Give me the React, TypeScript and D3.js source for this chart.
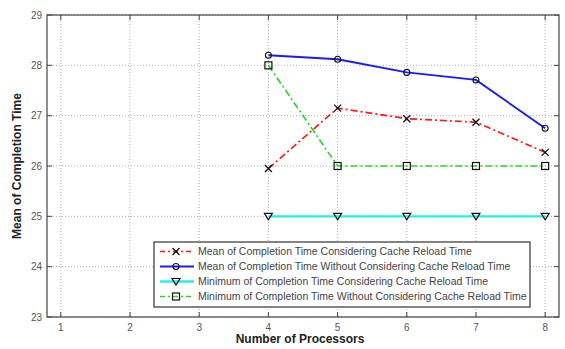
import React, { useEffect, useRef } from 'react';
import * as d3 from 'd3';

const processors = [4, 5, 6, 7, 8];
const meanWithCache = [25.95, 27.15, 26.94, 26.87, 26.27];
const meanWithoutCache = [28.2, 28.12, 27.86, 27.71, 26.75];
const minWithCache = [25, 25, 25, 25, 25];
const minWithoutCache = [28, 26, 26, 26, 26];
const xTicks = [1, 2, 3, 4, 5, 6, 7, 8];
const yTicks = [23, 24, 25, 26, 27, 28, 29];

const seriesNames = [
  'Mean of Completion Time Considering Cache Reload Time',
  'Mean of Completion Time Without Considering Cache Reload Time',
  'Minimum of Completion Time Considering Cache Reload Time',
  'Minimum of Completion Time Without Considering Cache Reload Time',
];

const series = [
  { values: meanWithCache, color: '#ff1a1a', dash: '7,3,2,3', width: 1.7, marker: 'x' },
  { values: meanWithoutCache, color: '#1a1aff', dash: '', width: 1.9, marker: 'o' },
  { values: minWithCache, color: '#22f0f0', dash: '', width: 2.4, marker: 'v' },
  { values: minWithoutCache, color: '#22dd22', dash: '7,3,2,3', width: 1.7, marker: 's' },
];

function drawMarker(g: any, type: string, cx: number, cy: number) {
  const s = 3.5;
  if (type === 'x') {
    g.append('path')
      .attr('d', `M${cx - s},${cy - s}L${cx + s},${cy + s}M${cx - s},${cy + s}L${cx + s},${cy - s}`)
      .attr('stroke', '#111').attr('stroke-width', 1.3).attr('fill', 'none');
  } else if (type === 'o') {
    g.append('circle').attr('cx', cx).attr('cy', cy).attr('r', 3)
      .attr('stroke', '#111').attr('stroke-width', 1.1).attr('fill', 'none');
  } else if (type === 'v') {
    g.append('path')
      .attr('d', `M${cx - 4},${cy - 3}L${cx + 4},${cy - 3}L${cx},${cy + 3.5}Z`)
      .attr('stroke', '#111').attr('stroke-width', 1.2).attr('fill', 'none');
  } else {
    g.append('rect').attr('x', cx - 3.5).attr('y', cy - 3.5).attr('width', 7).attr('height', 7)
      .attr('stroke', '#111').attr('stroke-width', 1.2).attr('fill', 'none');
  }
}

export default function App() {
  const ref = useRef<SVGSVGElement>(null);

  useEffect(() => {
    const svg = d3.select(ref.current);
    svg.selectAll('*').remove();

    const left = 47, right = 559, top = 15, bottom = 317;

    const x = d3.scaleLinear().domain([0.8, 8.2]).range([left, right]);
    const y = d3.scaleLinear().domain([23, 29]).range([bottom, top]);

    svg.append('rect').attr('width', 565).attr('height', 349).attr('fill', '#fff');

    // grid
    const grid = svg.append('g').attr('stroke', '#999').attr('stroke-width', 0.8)
      .attr('stroke-dasharray', '1,2');
    xTicks.forEach(t => {
      grid.append('line').attr('x1', x(t)).attr('x2', x(t)).attr('y1', top).attr('y2', bottom);
    });
    yTicks.forEach(t => {
      grid.append('line').attr('x1', left).attr('x2', right).attr('y1', y(t)).attr('y2', y(t));
    });

    // frame and ticks
    const axisColor = '#444';
    svg.append('rect').attr('x', left).attr('y', top).attr('width', right - left)
      .attr('height', bottom - top).attr('fill', 'none').attr('stroke', axisColor).attr('stroke-width', 1.2);
    const ticks = svg.append('g').attr('stroke', axisColor).attr('stroke-width', 1);
    xTicks.forEach(t => {
      ticks.append('line').attr('x1', x(t)).attr('x2', x(t)).attr('y1', bottom).attr('y2', bottom - 5);
      ticks.append('line').attr('x1', x(t)).attr('x2', x(t)).attr('y1', top).attr('y2', top + 5);
    });
    yTicks.forEach(t => {
      ticks.append('line').attr('x1', left).attr('x2', left + 5).attr('y1', y(t)).attr('y2', y(t));
      ticks.append('line').attr('x1', right).attr('x2', right - 5).attr('y1', y(t)).attr('y2', y(t));
    });

    const labels = svg.append('g').attr('font-family', 'Liberation Sans, Arial, sans-serif')
      .attr('font-size', 10).attr('fill', '#555');
    xTicks.forEach(t => {
      labels.append('text').attr('x', x(t)).attr('y', bottom + 14).attr('text-anchor', 'middle').text(t);
    });
    yTicks.forEach(t => {
      labels.append('text').attr('x', left - 5).attr('y', y(t) + 3.5).attr('text-anchor', 'end').text(t);
    });

    // series
    const line = d3.line<number>().x((_, i) => x(processors[i])).y(d => y(d));
    series.forEach(s => {
      svg.append('path').attr('d', line(s.values)).attr('fill', 'none')
        .attr('stroke', s.color).attr('stroke-width', s.width)
        .attr('stroke-dasharray', s.dash || null);
    });
    const markers = svg.append('g');
    series.forEach(s => {
      s.values.forEach((v, i) => drawMarker(markers, s.marker, x(processors[i]), y(v)));
    });

    // legend
    const lx = 154, ly = 242, lw = 376, lh = 65;
    const lg = svg.append('g');
    lg.append('rect').attr('x', lx).attr('y', ly).attr('width', lw).attr('height', lh)
      .attr('fill', '#fff').attr('stroke', '#333').attr('stroke-width', 1.2);
    series.forEach((s, i) => {
      const yy = ly + 9.5 + i * 15;
      lg.append('line').attr('x1', lx + 6).attr('x2', lx + 40).attr('y1', yy).attr('y2', yy)
        .attr('stroke', s.color).attr('stroke-width', s.width)
        .attr('stroke-dasharray', s.dash ? '5,3,2,3' : null);
      drawMarker(lg, s.marker, lx + 22, yy);
      lg.append('text').attr('x', lx + 44).attr('y', yy + 3.5)
        .attr('font-family', 'Liberation Sans, Arial, sans-serif').attr('font-size', 10.5)
        .attr('fill', '#444').text(seriesNames[i]);
    });

    // axis titles
    svg.append('text').attr('x', (left + right) / 2 - 3).attr('y', 343).attr('text-anchor', 'middle')
      .attr('font-family', 'Liberation Sans, Arial, sans-serif').attr('font-weight', 'bold')
      .attr('font-size', 12).attr('fill', '#222').text('Number of Processors');
    svg.append('text').attr('transform', `translate(21,${(top + bottom) / 2}) rotate(-90)`)
      .attr('text-anchor', 'middle')
      .attr('font-family', 'Liberation Sans, Arial, sans-serif').attr('font-weight', 'bold')
      .attr('font-size', 12).attr('fill', '#222').text('Mean of Completion Time');
  }, []);

  return (
    <svg ref={ref} width={565} height={349}
      style={{ position: 'absolute', left: 0, top: 0 }} />
  );
}
